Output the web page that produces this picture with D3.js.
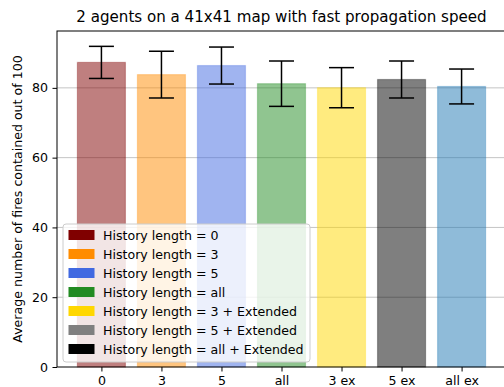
<!DOCTYPE html>
<html>
<head>
<meta charset="utf-8">
<script src="https://cdn.jsdelivr.net/npm/d3@7/dist/d3.min.js"></script>
<style>
  html, body { margin: 0; padding: 0; background: #fff; }
  svg { display: block; font-family: "DejaVu Sans", sans-serif; }
</style>
</head>
<body>
<div id="chart"></div>
<script>
const categories = ['0', '3', '5', 'all', '3 ex', '5 ex', 'all ex'];
const means = [87.3, 83.8, 86.4, 81.2, 80.05, 82.4, 80.4];
const errors = [4.6, 6.7, 5.3, 6.5, 5.75, 5.3, 5.0];
const barColors = ['#800000', '#ff8c00', '#4169e1', '#228b22', '#ffd700', '#000000', '#1f77b4'];
const legendLabels = ['History length = 0', 'History length = 3', 'History length = 5', 'History length = all',
  'History length = 3 + Extended', 'History length = 5 + Extended', 'History length = all + Extended'];
const legendColors = ['#800000', '#ff8c00', '#4169e1', '#228b22', '#ffd700', '#808080', '#000000'];
const yTicks = [0, 20, 40, 60, 80];

const width = 504, height = 387;
const margin = { top: 31, right: -2, bottom: 20, left: 57 };
const x0 = margin.left, x1 = width - margin.right;
const y0 = height - margin.bottom, y1 = margin.top;
const fs = 12.6;

const svg = d3.select('#chart').append('svg')
    .attr('width', width)
    .attr('height', height);

const x = d3.scaleLinear().domain([-0.74, 6.74]).range([x0, x1]);
const y = d3.scaleLinear().domain([0, 96.3]).range([y0, y1]);
const bw = x(0.4) - x(-0.4);

// grid
svg.append('g')
    .selectAll('line')
    .data(yTicks.slice(1))
    .enter().append('line')
    .attr('x1', x0).attr('x2', x1)
    .attr('y1', d => y(d)).attr('y2', d => y(d))
    .attr('stroke', '#c4c4c4')
    .attr('stroke-width', 1);

// bars
svg.append('g')
    .selectAll('rect')
    .data(means)
    .enter().append('rect')
    .attr('x', (d, i) => x(i) - bw / 2)
    .attr('y', d => y(d))
    .attr('width', bw)
    .attr('height', d => y(0) - y(d))
    .attr('fill', (d, i) => barColors[i])
    .attr('fill-opacity', 0.5)
    .attr('stroke', (d, i) => barColors[i])
    .attr('stroke-opacity', 0.3)
    .attr('stroke-width', 1.2);

// error bars
const eb = svg.append('g').attr('stroke', '#000').attr('stroke-width', 1.5);
means.forEach((m, i) => {
    const cx = x(i), cap = 12.5;
    eb.append('line').attr('x1', cx).attr('x2', cx).attr('y1', y(m - errors[i])).attr('y2', y(m + errors[i]));
    [m - errors[i], m + errors[i]].forEach(v => {
        eb.append('line').attr('x1', cx - cap).attr('x2', cx + cap).attr('y1', y(v)).attr('y2', y(v));
    });
});

// axes
const xAxis = svg.append('g')
    .attr('transform', `translate(0,${y0})`)
    .call(d3.axisBottom(x).tickValues(d3.range(categories.length)).tickFormat(i => categories[i]).tickSize(4.5).tickPadding(4.5));
xAxis.select('.domain').remove();

const yAxis = svg.append('g')
    .attr('transform', `translate(${x0},0)`)
    .call(d3.axisLeft(y).tickValues(yTicks).tickSize(4.5).tickPadding(4.5));
yAxis.select('.domain').remove();

[xAxis, yAxis].forEach(a => {
    a.selectAll('text').style('font-size', fs + 'px').attr('fill', '#000').style('font-family', '"DejaVu Sans", sans-serif');
    a.selectAll('line').attr('stroke', '#000').attr('stroke-width', 1);
});

// spines
svg.append('rect')
    .attr('x', x0).attr('y', y1)
    .attr('width', x1 - x0).attr('height', y0 - y1)
    .attr('fill', 'none')
    .attr('stroke', '#000')
    .attr('stroke-width', 1);

// title and y label
svg.append('text')
    .attr('x', (x0 + x1) / 2)
    .attr('y', 22)
    .attr('text-anchor', 'middle')
    .style('font-size', '15.1px')
    .text('2 agents on a 41x41 map with fast propagation speed');

svg.append('text')
    .attr('transform', `translate(22,${(y0 + y1) / 2}) rotate(-90)`)
    .attr('text-anchor', 'middle')
    .style('font-size', fs + 'px')
    .text('Average number of fires contained out of 100');

// legend
const lg = svg.append('g').attr('transform', 'translate(63,224)');
lg.append('rect')
    .attr('width', 247).attr('height', 138)
    .attr('rx', 3)
    .attr('fill', '#fff').attr('fill-opacity', 0.8)
    .attr('stroke', '#cccccc').attr('stroke-width', 1);
legendLabels.forEach((t, i) => {
    const ry = 6 + i * 19;
    lg.append('rect')
        .attr('x', 5.5).attr('y', ry)
        .attr('width', 26).attr('height', 10)
        .attr('fill', legendColors[i]);
    lg.append('text')
        .attr('x', 40).attr('y', ry + 10)
        .style('font-size', fs + 'px')
        .text(t);
});
</script>
</body>
</html>
